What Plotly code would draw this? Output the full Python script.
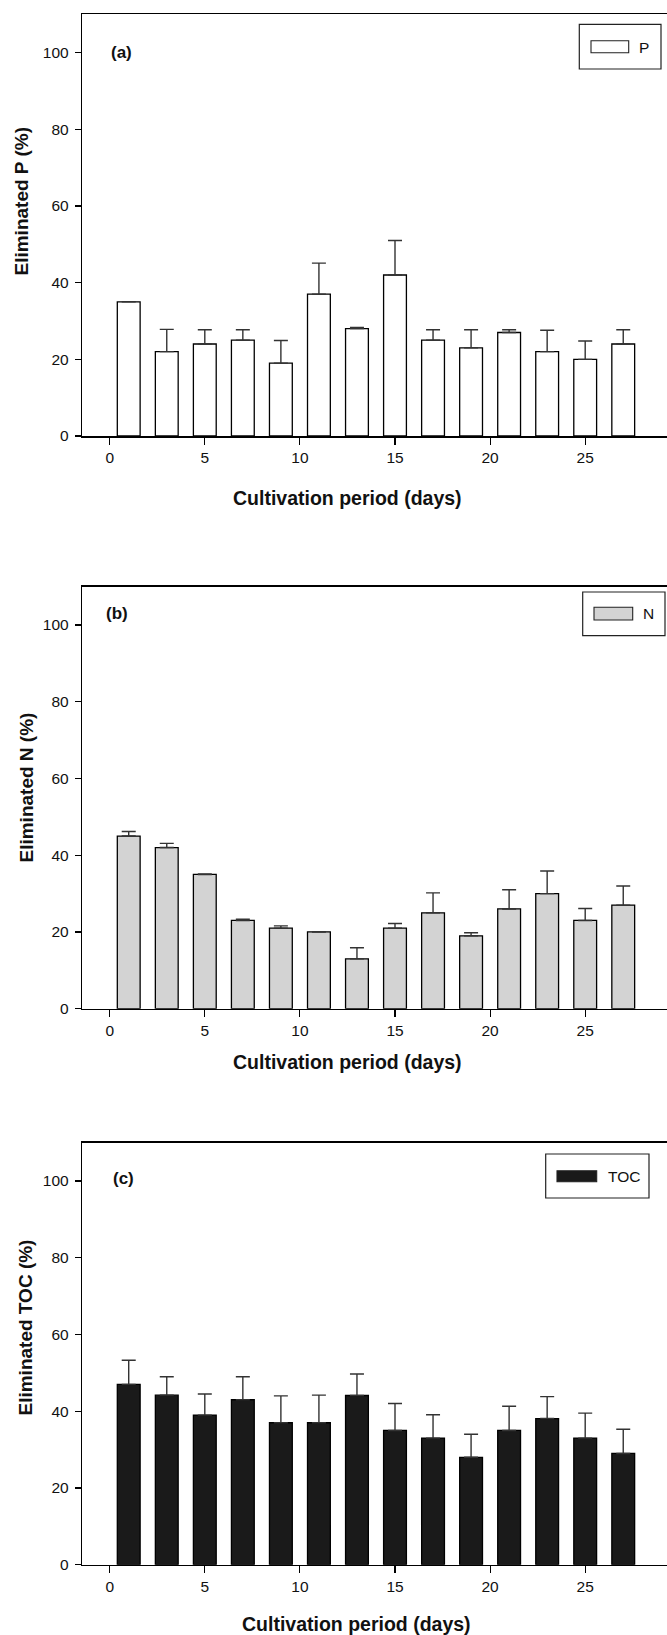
import plotly.graph_objects as go

W, H = 667, 1635

days = [1, 3, 5, 7, 9, 11, 13, 15, 17, 19, 21, 23, 25, 27]
x_ticks = [0, 5, 10, 15, 20, 25]
y_ticks = [0, 20, 40, 60, 80, 100]

p_values = [35, 22, 24, 25, 19, 37, 28, 42, 25, 23, 27, 22, 20, 24]
p_errors = [0, 5.8, 3.7, 2.7, 5.9, 8.1, 0.3, 9.0, 2.7, 4.7, 0.7, 5.6, 4.8, 3.7]

n_values = [45, 42, 35, 23, 21, 20, 13, 21, 25, 19, 26, 30, 23, 27]
n_errors = [1.2, 1.1, 0.1, 0.3, 0.6, 0, 2.9, 1.2, 5.2, 0.8, 5.0, 5.9, 3.1, 5.0]

toc_values = [47, 44.2, 39, 43, 37, 37, 44.1, 35, 33, 28, 35, 38.1, 33, 29]
toc_errors = [6.3, 4.8, 5.5, 6.0, 7.0, 7.2, 5.6, 7.0, 6.1, 6.0, 6.3, 5.7, 6.5, 6.3]

panel_labels = ["(a)", "(b)", "(c)"]
series_names = ["P", "N", "TOC"]
y_titles = ["Eliminated P (%)", "Eliminated N (%)", "Eliminated TOC (%)"]
x_title = "Cultivation period (days)"

FONT = "Liberation Sans, Arial, Helvetica, sans-serif"


def px(x):
    return x / W


def py(y):
    return 1 - y / H


# panel geometry in pixels: (top, bottom)
panels = [
    dict(top=14.3, bottom=436.0, fill="#ffffff", vals=p_values, errs=p_errors,
         label_xy=(121.7, 52), ytitle_xy=(20.5, 201), xtitle_xy=(347, 498),
         legbox=(579.3, 24.3, 661, 69), swatch=(591, 40.7, 628.7, 52.7), legtext_xy=(644, 47)),
    dict(top=586.7, bottom=1008.7, fill="#d3d3d3", vals=n_values, errs=n_errors,
         label_xy=(117, 613), ytitle_xy=(25.5, 788), xtitle_xy=(347, 1061.5),
         legbox=(582.7, 592, 665, 635.7), swatch=(594, 607.3, 632.7, 620), legtext_xy=(648, 613.7)),
    dict(top=1142.7, bottom=1564.7, fill="#1a1a1a", vals=toc_values, errs=toc_errors,
         label_xy=(123, 1178), ytitle_xy=(24.5, 1328), xtitle_xy=(356, 1624),
         legbox=(545.7, 1154, 649, 1198), swatch=(557, 1170.7, 596.7, 1181.7), legtext_xy=(623.5, 1176)),
]

x_left_px, x_right_px = 82.3, 667.0
x0_px, px_per_day = 109.7, 19.02
x_range = [(x_left_px - x0_px) / px_per_day, (x_right_px - x0_px) / px_per_day]

fig = go.Figure()
annotations = []
shapes = []

for i, p in enumerate(panels):
    k = "" if i == 0 else str(i + 1)
    fig.add_trace(go.Bar(
        x=days, y=p["vals"], width=1.2, name=series_names[i],
        marker=dict(color=p["fill"], line=dict(color="#000000", width=1.3)),
        error_y=dict(type="data", symmetric=False, array=p["errs"],
                     arrayminus=[0] * len(p["errs"]), color="#333333",
                     thickness=1.4, width=7),
        xaxis="x" + k, yaxis="y" + k, showlegend=False,
    ))
    dom_y = [py(p["bottom"]), py(p["top"])]
    fig.layout["xaxis" + k] = dict(
        domain=[px(x_left_px), 1.0], range=x_range, anchor="y" + k,
        tickmode="array", tickvals=x_ticks, ticks="outside", ticklen=7,
        tickwidth=1.2, tickcolor="#000", showline=True, linecolor="#000",
        linewidth=1.5, mirror=True, showgrid=False, zeroline=False,
        tickfont=dict(family=FONT, size=15.5, color="#111"),
        automargin=False, fixedrange=True,
    )
    fig.layout["yaxis" + k] = dict(
        domain=dom_y, range=[0, 110], anchor="x" + k,
        tickmode="array", tickvals=y_ticks, ticks="outside", ticklen=6,
        tickwidth=1.2, tickcolor="#000", showline=True, linecolor="#000",
        linewidth=1.5, mirror=False, showgrid=False, zeroline=False,
        tickfont=dict(family=FONT, size=15.5, color="#111"),
        ticklabelstandoff=3, automargin=False, fixedrange=True,
    )
    # panel label
    annotations.append(dict(
        text="<b>" + panel_labels[i] + "</b>", x=px(p["label_xy"][0]), y=py(p["label_xy"][1]),
        xref="paper", yref="paper", xanchor="center", yanchor="middle",
        showarrow=False, font=dict(family=FONT, size=17, color="#111")))
    # y title
    annotations.append(dict(
        text="<b>" + y_titles[i] + "</b>", x=px(p["ytitle_xy"][0]), y=py(p["ytitle_xy"][1]),
        xref="paper", yref="paper", xanchor="center", yanchor="middle", textangle=-90,
        showarrow=False, font=dict(family=FONT, size=19, color="#111")))
    # x title
    annotations.append(dict(
        text="<b>" + x_title + "</b>", x=px(p["xtitle_xy"][0]), y=py(p["xtitle_xy"][1]),
        xref="paper", yref="paper", xanchor="center", yanchor="middle",
        showarrow=False, font=dict(family=FONT, size=19.5, color="#111")))
    # legend box
    bx0, by0, bx1, by1 = p["legbox"]
    shapes.append(dict(type="rect", xref="paper", yref="paper",
                       x0=px(bx0), x1=px(bx1), y0=py(by1), y1=py(by0),
                       line=dict(color="#222", width=1.2), fillcolor="#ffffff", layer="above"))
    sx0, sy0, sx1, sy1 = p["swatch"]
    shapes.append(dict(type="rect", xref="paper", yref="paper",
                       x0=px(sx0), x1=px(sx1), y0=py(sy1), y1=py(sy0),
                       line=dict(color="#222", width=1.1), fillcolor=p["fill"], layer="above"))
    annotations.append(dict(
        text=series_names[i], x=px(p["legtext_xy"][0]), y=py(p["legtext_xy"][1]),
        xref="paper", yref="paper", xanchor="center", yanchor="middle",
        showarrow=False, font=dict(family=FONT, size=15.5, color="#111")))

fig.update_layout(
    width=W, height=H, margin=dict(l=0, r=0, t=0, b=0),
    paper_bgcolor="#ffffff", plot_bgcolor="#ffffff",
    annotations=annotations, shapes=shapes, showlegend=False,
    font=dict(family=FONT), hovermode=False,
)

fig.write_html(
    "out.html",
    config={"displayModeBar": False, "staticPlot": True},
    post_script="document.body.style.margin='0';document.body.style.padding='0';"
                "document.body.style.overflow='hidden';",
)
